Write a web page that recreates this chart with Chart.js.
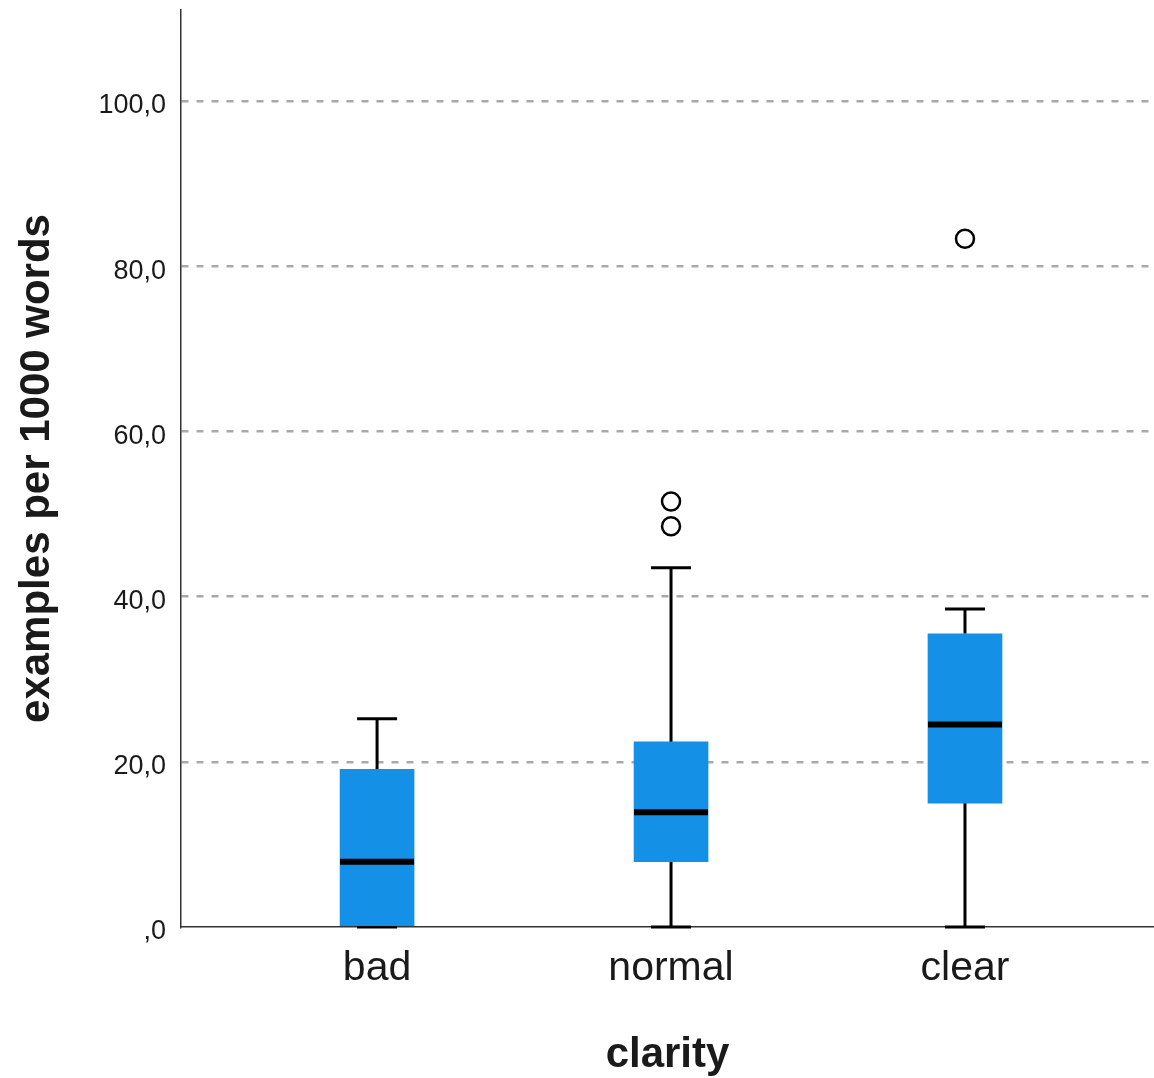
<!DOCTYPE html>
<html lang="en">
<head>
    <meta charset="UTF-8">
    <title>clarity boxplot</title>
    <script src="https://cdn.jsdelivr.net/npm/chart.js"></script>
    <style>
        html, body { margin: 0; padding: 0; overflow: hidden; background: #ffffff; }
        #grafico_box { display: block; }
    </style>
</head>
<body>
<canvas id="grafico_box" width="1154" height="1078"></canvas>

<script>
    // values
    const categories = ['bad', 'normal', 'clear'];
    const q1 = [0, 7.9, 15.0];
    const q3 = [19.1, 22.4, 35.5];
    const medians = [7.9, 13.9, 24.5];
    const whiskerLow = [0, 0, 0];
    const whiskerHigh = [25.2, 43.5, 38.5];
    const outlierCategory = [1, 1, 2];
    const outlierValues = [51.5, 48.5, 83.3];
    const yTicks = [0, 20, 40, 60, 80, 100];

    const corTexto = '#1a1a1a';

    // whiskers, caps and medians, drawn through the chart scales
    const boxLines = {
        id: 'boxLines',
        beforeDatasetsDraw(chart) {
            const { ctx, scales: { x, y } } = chart;
            ctx.save();
            ctx.strokeStyle = '#000000';
            ctx.lineWidth = 3;
            for (let i = 0; i < categories.length; i++) {
                const cx = x.getPixelForValue(i);
                ctx.beginPath();
                ctx.moveTo(cx, y.getPixelForValue(whiskerHigh[i]));
                ctx.lineTo(cx, y.getPixelForValue(q3[i]));
                ctx.moveTo(cx, y.getPixelForValue(whiskerLow[i]));
                ctx.lineTo(cx, y.getPixelForValue(q1[i]));
                ctx.moveTo(cx - 20, y.getPixelForValue(whiskerHigh[i]));
                ctx.lineTo(cx + 20, y.getPixelForValue(whiskerHigh[i]));
                ctx.moveTo(cx - 20, y.getPixelForValue(whiskerLow[i]));
                ctx.lineTo(cx + 20, y.getPixelForValue(whiskerLow[i]));
                ctx.stroke();
            }
            ctx.restore();
        },
        afterDatasetsDraw(chart) {
            const { ctx, scales: { x, y } } = chart;
            ctx.save();
            ctx.strokeStyle = '#000000';
            ctx.lineWidth = 6;
            for (let i = 0; i < categories.length; i++) {
                const cx = x.getPixelForValue(i);
                const my = y.getPixelForValue(medians[i]);
                ctx.beginPath();
                ctx.moveTo(cx - 37, my);
                ctx.lineTo(cx + 37, my);
                ctx.stroke();
            }
            ctx.restore();
        }
    };

    const caixas = categories.map((c, i) => ({ x: i, y: [q1[i], q3[i]] }));
    const outliers = outlierValues.map((v, i) => ({ x: outlierCategory[i], y: v }));

    new Chart(document.getElementById('grafico_box'), {
        type: 'bar',
        data: {
            datasets: [
                {
                    label: 'box',
                    data: caixas,
                    backgroundColor: '#1490e6',
                    borderWidth: 0,
                    barThickness: 74,
                    order: 2
                },
                {
                    type: 'scatter',
                    label: 'outliers',
                    data: outliers,
                    pointRadius: 9,
                    pointBorderWidth: 2.5,
                    pointBackgroundColor: '#ffffff',
                    pointBorderColor: '#000000',
                    order: 1
                }
            ]
        },
        options: {
            responsive: false,
            animation: false,
            devicePixelRatio: 1,
            layout: { autoPadding: false, padding: { top: 10, right: 0, left: 0, bottom: 0 } },
            plugins: {
                legend: { display: false },
                tooltip: { enabled: false }
            },
            scales: {
                x: {
                    type: 'linear',
                    offset: false,
                    min: -0.667,
                    max: 2.643,
                    afterBuildTicks(scale) {
                        scale.ticks = categories.map((c, i) => ({ value: i }));
                    },
                    afterFit(scale) {
                        scale.height = 151;
                        scale.paddingLeft = 0;
                        scale.paddingRight = 0;
                    },
                    grid: { display: false, drawTicks: false },
                    border: { display: true, color: '#333333', width: 1.5 },
                    ticks: {
                        autoSkip: false,
                        maxRotation: 0,
                        padding: 21,
                        color: corTexto,
                        font: { family: '"Liberation Sans", Arial, sans-serif', size: 41, lineHeight: 1 },
                        callback: (v) => categories[v]
                    },
                    title: {
                        display: true,
                        text: 'clarity',
                        color: corTexto,
                        padding: { top: 0, bottom: 2 },
                        font: { family: '"Liberation Sans", Arial, sans-serif', size: 42, weight: 'bold', lineHeight: 1 }
                    }
                },
                y: {
                    min: 0,
                    max: 111,
                    afterBuildTicks(scale) {
                        scale.ticks = yTicks.map(v => ({ value: v }));
                    },
                    afterFit(scale) {
                        scale.width = 181;
                        scale.paddingTop = 0;
                        scale.paddingBottom = 0;
                    },
                    grid: {
                        drawTicks: false,
                        lineWidth: 2.5,
                        color: (ctx) => ctx.tick && ctx.tick.value === 0 ? 'rgba(0,0,0,0)' : '#a9a9a9'
                    },
                    border: { display: true, color: '#333333', width: 1.5, dash: [7, 8] },
                    ticks: {
                        padding: 15,
                        labelOffset: 5,
                        color: corTexto,
                        font: { family: '"Liberation Sans", Arial, sans-serif', size: 27 },
                        callback: (v) => v === 0 ? ',0' : v.toFixed(1).replace('.', ',')
                    },
                    title: {
                        display: true,
                        text: 'examples per 1000 words',
                        color: corTexto,
                        padding: { top: 16, bottom: 0 },
                        font: { family: '"Liberation Sans", Arial, sans-serif', size: 42, weight: 'bold', lineHeight: 1 }
                    }
                }
            }
        },
        plugins: [boxLines]
    });
</script>
</body>
</html>
